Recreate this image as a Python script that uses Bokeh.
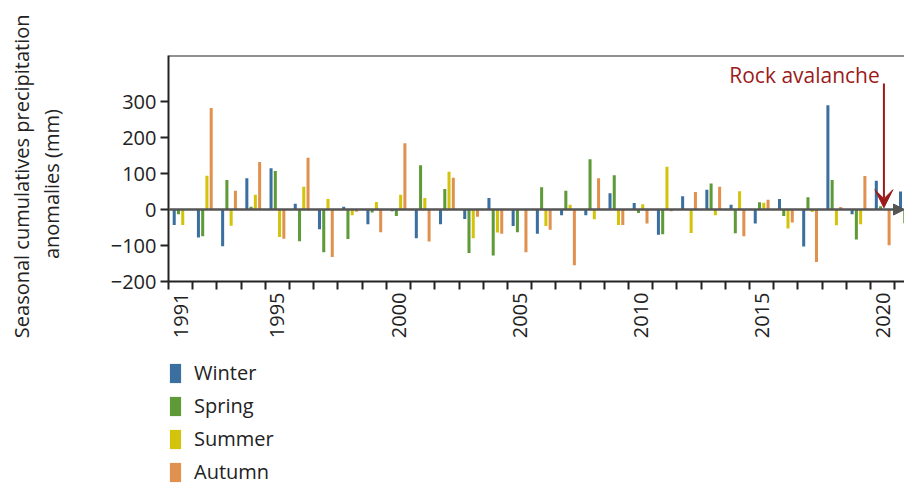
from math import pi
from bokeh.plotting import figure
from bokeh.layouts import column
from bokeh.models import (ColumnDataSource, FixedTicker, Legend, LegendItem,
                          Arrow, VeeHead, NormalHead, Label, Span)
from bokeh.transform import dodge
from bokeh.embed import file_html
from bokeh.resources import INLINE

years = list(range(1991, 2022))
winter = [-43, -78, -102, 87, 115, 16, -55, 8, -41, -5, -80, -41, -26, 32, -46, -67,
          -16, -16, 45, 18, -70, 37, 55, 13, -39, 29, -103, 290, -13, 80, 50]
spring = [-13, -74, 82, 8, 107, -88, -119, -82, -8, -18, 123, 57, -121, -128, -63, 62,
          52, 140, 95, -10, -69, 0, 72, -66, 20, -18, 34, 82, -83, 9, -38]
summer = [-43, 94, -45, 41, -76, 63, 29, -16, 21, 41, 32, 105, -80, -64, 0, -46,
          13, -27, -43, 15, 119, -65, -16, 51, 19, -53, -7, -44, -41, 0, -20]
autumn = [0, 282, 52, 132, -81, 144, -132, -6, -63, 184, -89, 88, -20, -67, -119, -56,
          -155, 87, -43, -39, -5, 49, 63, -74, 27, -36, -146, 7, 93, -99, -40]

seasons = ["Winter", "Spring", "Summer", "Autumn"]
colors = ["#3a6f9f", "#5e9a38", "#d3c30b", "#e0914f"]
labeled_years = [1991, 1995, 2000, 2005, 2010, 2015, 2020]
y_ticks = [-200, -100, 0, 100, 200, 300]

FONT = "Open Sans"
INK = "#222222"
RED = "#9b1b1b"
NB = "\u00a0"  # trailing no-break spaces push the rotated title a bit lower

src = ColumnDataSource(data=dict(year=years, Winter=winter, Spring=spring,
                                 Summer=summer, Autumn=autumn))

p = figure(width=904, height=343, x_range=(1990.5, 2020.9), y_range=(-200, 428),
           output_backend="svg", toolbar_location=None,
           min_border_left=168, min_border_right=0, min_border_top=55, min_border_bottom=62)
p.outline_line_color = None
p.grid.grid_line_color = None
p.background_fill_color = None
p.border_fill_color = None

renderers = []
offsets = [-0.264, -0.088, 0.088, 0.264]
for s, c, off in zip(seasons, colors, offsets):
    r = p.vbar(x=dodge("year", off), top=s, bottom=0, width=0.125, source=src,
               fill_color=c, line_color=None)
    renderers.append(r)

# axes
xa = p.xaxis[0]
xa.ticker = FixedTicker(ticks=labeled_years, minor_ticks=[y - 0.5 for y in years] + [2021.5])
xa.major_tick_line_color = None
xa.major_tick_out = 8
xa.major_tick_in = 0
xa.minor_tick_out = 8
xa.minor_tick_in = 0
xa.minor_tick_line_width = 2
xa.minor_tick_line_color = INK
xa.major_label_orientation = pi / 2
xa.major_label_standoff = 3

ya = p.yaxis[0]
ya.ticker = FixedTicker(ticks=y_ticks)
ya.major_tick_out = 8
ya.major_tick_in = 0
ya.major_tick_line_width = 2
ya.major_tick_line_color = INK
ya.major_label_standoff = 4
ya.axis_label = ("Seasonal cumulatives precipitation" + NB * 3 + "\n"
                 + "anomalies (mm)" + NB * 6)
ya.axis_label_standoff = 43
ya.axis_label_text_font_style = "normal"
ya.axis_label_text_line_height = 1.1

for ax in (xa, ya):
    ax.axis_line_width = 2
    ax.axis_line_color = INK
    ax.major_label_text_font = FONT
    ax.major_label_text_font_size = "20px"
    ax.major_label_text_color = INK
    ax.axis_label_text_font = FONT
    ax.axis_label_text_font_size = "20px"
    ax.axis_label_text_color = INK

p.add_layout(Span(location=428, dimension="width", line_color=INK, line_width=2))

# zero line with arrow
p.add_layout(Arrow(x_start=1990.5, y_start=0, x_end=2020.9, y_end=0,
                   line_color="#555555", line_width=2.5,
                   end=NormalHead(size=11, fill_color="#555555", line_color="#555555")))

# rock avalanche marker
p.add_layout(Arrow(x_start=2020.05, y_start=350, x_end=2020.05, y_end=5,
                   line_color=RED, line_width=2,
                   end=VeeHead(size=18, fill_color=RED, line_color=RED)))
p.add_layout(Label(x=2016.77, y=374, text="Rock avalanche", text_align="center",
                   text_baseline="alphabetic", text_font=FONT, text_font_size="21px",
                   text_color=RED))

# legend lives in its own strip under the chart
q = figure(width=904, height=142, x_range=(0, 1), y_range=(0, 1),
           output_backend="svg", toolbar_location=None,
           min_border_left=0, min_border_right=0, min_border_top=0, min_border_bottom=0)
q.axis.visible = False
q.grid.grid_line_color = None
q.outline_line_color = None
q.background_fill_color = None
q.border_fill_color = None

swatches = []
for s, c in zip(seasons, colors):
    swatches.append(q.vbar(x=[-5], top=[0], width=0.1, fill_color=c, line_color=None))

legend = Legend(items=[LegendItem(label=s, renderers=[r]) for s, r in zip(seasons, swatches)],
                location=(0, 0), orientation="vertical")
legend.label_text_font = FONT
legend.label_text_font_size = "20px"
legend.label_text_color = INK
legend.glyph_width = 14
legend.glyph_height = 24
legend.label_height = 20
legend.label_standoff = 12
legend.spacing = 6
legend.padding = 0
legend.margin = 0
legend.border_line_color = None
legend.background_fill_color = None
q.add_layout(legend)

page = column(p, q, spacing=0)
open("out.html", "w").write(file_html(page, INLINE))
